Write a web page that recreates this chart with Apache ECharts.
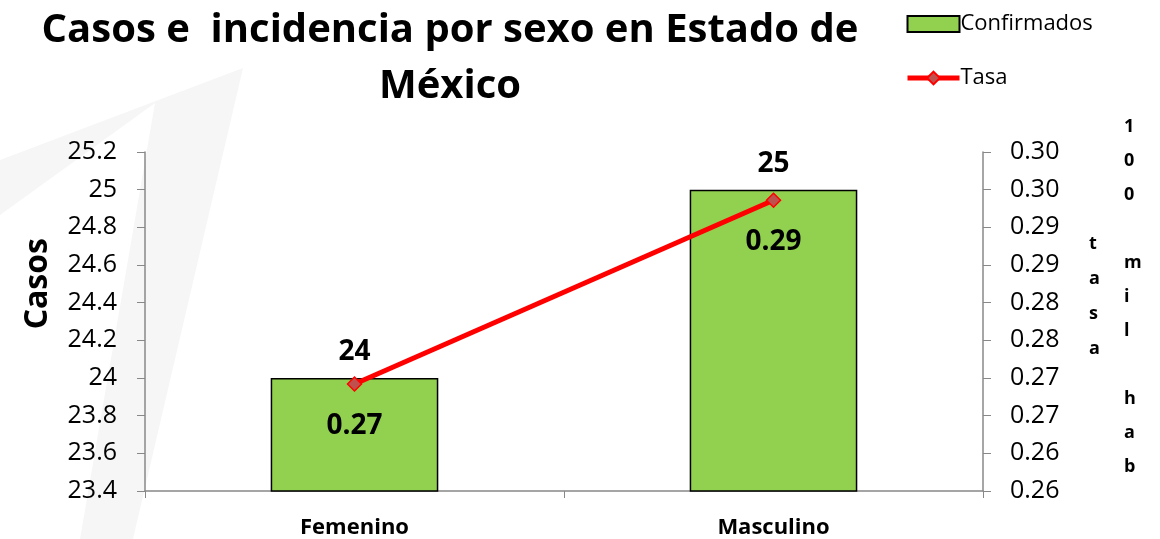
<!DOCTYPE html>
<html>
<head>
<meta charset="utf-8">
<script src="https://cdn.jsdelivr.net/npm/echarts@6/dist/echarts.min.js"></script>
<style>
  html, body { margin: 0; padding: 0; background: #fff; }
  #chart { width: 1160px; height: 539px; }
</style>
</head>
<body>
<div id="chart"></div>
<script>
// Data
var categories = ["Femenino", "Masculino"];
var confirmados = [24, 25];
var tasa = [0.2692, 0.2936];

var casosTicks = { min: 23.4, max: 25.2, interval: 0.2 };
var tasaTicks = { min: 0.255, max: 0.30, interval: 0.005 };

var font = "'Open Sans', Calibri, sans-serif";

var chart = echarts.init(document.getElementById("chart"));

chart.setOption({
  backgroundColor: "#ffffff",
  textStyle: { fontFamily: font, color: "#000" },
  animation: false,

  // Title
  title: {
    text: "Casos e  incidencia por sexo en Estado de\nMéxico",
    left: 445,
    top: -2,
    textAlign: "center",
    textStyle: {
      fontFamily: font,
      fontSize: 40,
      fontWeight: "bold",
      lineHeight: 56,
      color: "#000"
    }
  },

  // Legend
  legend: {
    orient: "vertical",
    left: 900,
    top: 8,
    itemWidth: 52,
    itemHeight: 16,
    itemGap: 32,
    textStyle: { fontSize: 22, fontFamily: font, color: "#000", padding: [0, 0, 0, -4] },
    data: [
      { name: "Confirmados", icon: "rect" },
      { name: "Tasa", lineStyle: { width: 5 } }
    ]
  },

  graphic: [
    // Watermark
    {
      type: "polygon",
      z: -10,
      silent: true,
      shape: { points: [[0, 160], [243, 68], [133, 539], [80, 539], [155, 103], [0, 215]] },
      style: { fill: "#f6f6f6" }
    },
    // Left axis title
    {
      type: "text",
      left: 22,
      top: 238,
      rotation: Math.PI / 2,
      originX: 0,
      originY: 0,
      style: {
        text: "Casos",
        font: "bold 32px " + font,
        fill: "#000"
      }
    },
    // Right axis title, stacked letters
    {
      type: "text",
      left: 1089,
      top: 226,
      style: {
        text: "t\na\ns\na",
        font: "bold 18px " + font,
        lineHeight: 35,
        fill: "#000",
        align: "center"
      }
    },
    {
      type: "text",
      left: 1124,
      top: 110,
      style: {
        text: "1\n0\n0\n \nm\ni\nl\n \nh\na\nb",
        font: "bold 18px " + font,
        lineHeight: 34,
        fill: "#000",
        align: "center"
      }
    }
  ],

  grid: {
    left: 145,
    right: 177,
    top: 152,
    bottom: 47,
    containLabel: false
  },

  xAxis: {
    type: "category",
    data: categories,
    axisLine: { lineStyle: { color: "#888", width: 1.5 } },
    axisTick: { show: true, length: 7, lineStyle: { color: "#888" } },
    axisLabel: {
      fontSize: 22,
      fontWeight: "bold",
      color: "#000",
      fontFamily: font,
      margin: 26
    }
  },

  yAxis: [
    {
      type: "value",
      min: casosTicks.min,
      max: casosTicks.max,
      interval: casosTicks.interval,
      axisLine: { show: true, lineStyle: { color: "#888", width: 1.5 } },
      axisTick: { show: true, length: 8, lineStyle: { color: "#888" } },
      splitLine: { show: false },
      axisLabel: {
        fontSize: 25,
        color: "#000",
        fontFamily: font,
        margin: 28,
        formatter: function (v) {
          return String(Math.round(v * 10) / 10);
        }
      }
    },
    {
      type: "value",
      position: "right",
      min: tasaTicks.min,
      max: tasaTicks.max,
      interval: tasaTicks.interval,
      axisLine: { show: true, lineStyle: { color: "#888", width: 1.5 } },
      axisTick: { show: true, length: 8, lineStyle: { color: "#888" } },
      splitLine: { show: false },
      axisLabel: {
        fontSize: 25,
        color: "#000",
        fontFamily: font,
        margin: 27,
        formatter: function (v) {
          return (Math.round(Math.round(v * 1000) / 10) / 100).toFixed(2);
        }
      }
    }
  ],

  series: [
    {
      name: "Confirmados",
      type: "bar",
      yAxisIndex: 0,
      data: confirmados,
      barWidth: "40%",
      itemStyle: { color: "#92D050", borderColor: "#000", borderWidth: 1.5 },
      label: {
        show: true,
        position: "top",
        distance: 12,
        fontSize: 28,
        fontWeight: "bold",
        color: "#000",
        fontFamily: font
      }
    },
    {
      name: "Tasa",
      type: "line",
      yAxisIndex: 1,
      data: tasa,
      symbol: "diamond",
      symbolSize: 14,
      lineStyle: { color: "#FF0000", width: 5 },
      itemStyle: { color: "#C0504D", borderColor: "#FF0000", borderWidth: 1.5 },
      label: {
        show: true,
        position: "bottom",
        distance: 20,
        fontSize: 28,
        fontWeight: "bold",
        color: "#000",
        fontFamily: font,
        formatter: function (p) {
          return p.value.toFixed(2);
        }
      }
    }
  ]
});
</script>
</body>
</html>
